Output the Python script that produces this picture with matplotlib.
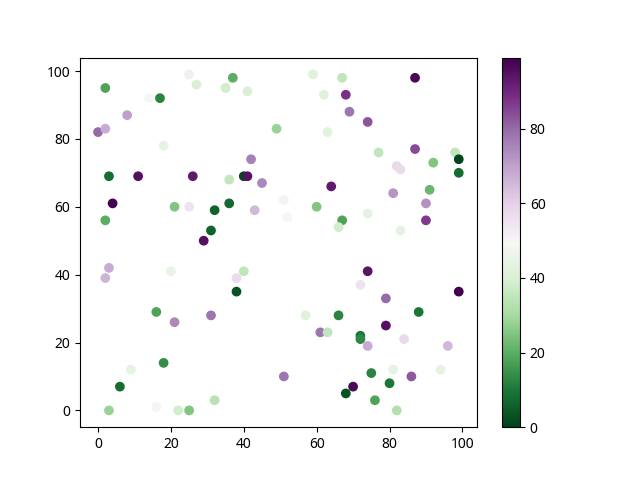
import matplotlib
matplotlib.use("Agg")
import matplotlib.pyplot as plt

plt.rcParams['font.family'] = ['Noto Sans', 'DejaVu Sans']

x = [25, 59, 87, 37, 67, 2, 27, 35, 41, 17, 14, 62, 68, 8, 69, 74, 0, 2, 63, 18,
     87, 98, 77, 92, 42, 82, 83, 49, 3, 11, 26, 40, 41, 99, 99, 36, 45, 64, 91, 81,
     4, 36, 32, 43, 21, 25, 2, 60, 51, 52, 67, 66, 74, 90, 90, 83, 31, 29,
     3, 2, 20, 38, 40, 38, 74, 72, 99, 79, 16, 21, 31, 57, 66, 88, 61, 63, 72, 72,
     79, 74, 84, 96, 18, 9, 6, 51, 81, 94, 75, 86, 70, 68, 80, 76, 32, 3, 16, 22,
     25, 82]
y = [99, 99, 98, 98, 98, 95, 96, 95, 94, 92, 92, 93, 93, 87, 88, 85, 82, 83, 82, 78,
     77, 76, 76, 73, 74, 72, 71, 83, 69, 69, 69, 69, 69, 74, 70, 68, 67, 66, 65, 64,
     61, 61, 59, 59, 60, 60, 56, 60, 62, 57, 56, 54, 58, 61, 56, 53, 53, 50,
     42, 39, 41, 39, 41, 35, 41, 37, 35, 33, 29, 26, 28, 28, 28, 29, 23, 23, 22, 21,
     25, 19, 21, 19, 14, 12, 7, 10, 12, 12, 11, 10, 7, 5, 8, 3, 3, 0, 1, 0,
     0, 0]
c = [52, 42, 97, 20, 35, 18, 40, 38, 40, 12, 50, 42, 88, 70, 78, 83, 80, 68, 42, 44,
     84, 35, 35, 25, 76, 58, 57, 28, 8, 95, 93, 1, 95, 0, 8, 35, 75, 93, 22, 72,
     98, 7, 6, 65, 25, 55, 20, 25, 51, 48, 18, 38, 43, 73, 87, 44, 6, 95,
     68, 66, 45, 57, 35, 3, 94, 55, 99, 80, 18, 75, 78, 41, 12, 10, 78, 35, 10, 13,
     95, 68, 58, 65, 14, 44, 8, 78, 44, 44, 12, 82, 97, 3, 10, 18, 33, 28, 50, 38,
     25, 32]

fig, ax = plt.subplots(figsize=(6.4, 4.8), dpi=100)
sc = ax.scatter(x, y, c=c, cmap='PRGn_r')
fig.colorbar(sc, ax=ax)
fig.savefig('out.png')
